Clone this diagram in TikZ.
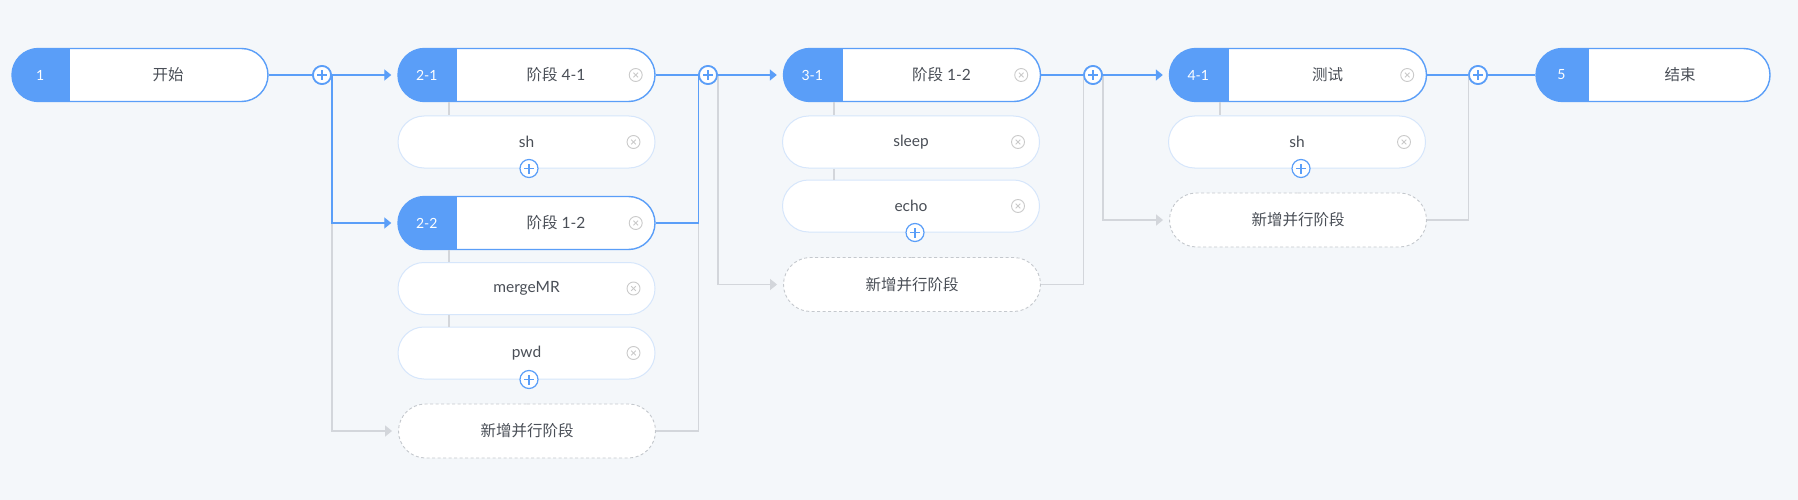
\documentclass[tikz,border=0pt]{standalone}
\usepackage{fontspec}
\setmainfont{Lato}
\newfontfamily\cjk{Noto Sans CJK SC}
\usetikzlibrary{shapes.misc,arrows.meta}
\definecolor{bgc}{HTML}{F4F7FA}
\definecolor{mblue}{HTML}{5A9EF8}
\definecolor{lblue}{HTML}{D6E6FB}
\definecolor{lgrey}{HTML}{D3D6DB}
\definecolor{dgrey}{HTML}{C4C8CD}
\definecolor{txt}{HTML}{4A4F57}
\definecolor{xgrey}{HTML}{CACACA}
\tikzset{
  pill/.style={rounded rectangle, inner sep=0pt, fill=white, minimum height=53pt, minimum width=257pt, text=txt},
  headbox/.style={pill, draw=mblue, line width=1.4pt,
    path picture={\fill[mblue] (path picture bounding box.south west) rectangle ([xshift=#1]path picture bounding box.north west);}},
  subbox/.style={pill, minimum height=52pt, draw=lblue, line width=1pt},
  newbox/.style={pill, minimum height=54pt, draw=dgrey, line width=0.9pt, dash pattern=on 3pt off 2.5pt},
  idtxt/.style={text=white, font=\fontsize{14}{16}\selectfont, inner sep=0pt},
  ttl/.style={text=txt, inner sep=0pt},
  bline/.style={draw=mblue, line width=1.3pt},
  glines/.style={draw=lgrey, line width=1.3pt},
  tipb/.style={-{Triangle[width=11pt,length=7pt]}},
  plusicon/.style={circle, draw=mblue, fill=white, line width=1.7pt, minimum size=18pt, inner sep=0pt,
    path picture={\draw[mblue, line width=1.7pt] ([xshift=-5pt]path picture bounding box.center) -- ([xshift=5pt]path picture bounding box.center);
                  \draw[mblue, line width=1.7pt] ([yshift=-5pt]path picture bounding box.center) -- ([yshift=5pt]path picture bounding box.center);}},
  subplus/.style={plusicon, line width=1.2pt,
    path picture={\draw[mblue, line width=1.2pt] ([xshift=-5pt]path picture bounding box.center) -- ([xshift=5pt]path picture bounding box.center);
                  \draw[mblue, line width=1.2pt] ([yshift=-5pt]path picture bounding box.center) -- ([yshift=5pt]path picture bounding box.center);}},
  closeicon/.style={circle, draw=xgrey, fill=white, line width=0.9pt, minimum size=13pt, inner sep=0pt,
    path picture={\draw[xgrey, line width=0.8pt] ([shift={(-2.3pt,-2.3pt)}]path picture bounding box.center) -- ([shift={(2.3pt,2.3pt)}]path picture bounding box.center);
                  \draw[xgrey, line width=0.8pt] ([shift={(-2.3pt,2.3pt)}]path picture bounding box.center) -- ([shift={(2.3pt,-2.3pt)}]path picture bounding box.center);}}
}
\begin{document}
\begin{tikzpicture}[x=1pt,y=-1pt, font=\fontsize{15.5}{18}\selectfont]
\fill[bgc] (0,0) rectangle (1798,500);
\useasboundingbox (0,0) rectangle (1798,500);

% start / end
\node[headbox=58pt, minimum width=256pt] (start) at (140,75) {};
\node[idtxt] (startid) at ([xshift=29pt]start.west) {1};
\node[ttl] (startt) at ([xshift=28pt]start.center) {\cjk 开始};

\node[headbox=53pt, minimum width=234pt] (fin) at (1653,75) {};
\node[idtxt] (finid) at ([xshift=26pt]fin.west) {5};
\node[ttl] (fint) at ([xshift=27pt]fin.center) {\cjk 结束};

% stage 2
\node[headbox=59pt] (s21) at (526.5,75) {};
\node[idtxt] (s21id) at ([xshift=29.5pt]s21.west) {2-1};
\node[ttl] (s21t) at ([xshift=29.5pt]s21.center) {{\cjk 阶段} 4-1};
\node[closeicon] (s21x) at ([xshift=-20pt]s21.east) {};
\node[subbox] (s21a) at (526.5,142) {sh};
\node[closeicon] (s21ax) at ([xshift=-22pt]s21a.east) {};

\node[headbox=59pt] (s22) at (526.5,223) {};
\node[idtxt] (s22id) at ([xshift=29.5pt]s22.west) {2-2};
\node[ttl] (s22t) at ([xshift=29.5pt]s22.center) {{\cjk 阶段} 1-2};
\node[closeicon] (s22x) at ([xshift=-20pt]s22.east) {};
\node[subbox] (s22a) at (526.5,288.5) {mergeMR};
\node[closeicon] (s22ax) at ([xshift=-22pt]s22a.east) {};
\node[subbox] (s22b) at (526.5,353) {pwd};
\node[closeicon] (s22bx) at ([xshift=-22pt]s22b.east) {};
\node[newbox] (n2) at (527,431) {\cjk 新增并行阶段};

% stage 3
\node[headbox=59pt] (s31) at (912,75) {};
\node[idtxt] (s31id) at ([xshift=29.5pt]s31.west) {3-1};
\node[ttl] (s31t) at ([xshift=29.5pt]s31.center) {{\cjk 阶段} 1-2};
\node[closeicon] (s31x) at ([xshift=-20pt]s31.east) {};
\node[subbox] (s31a) at (911,142) {sleep};
\node[closeicon] (s31ax) at ([xshift=-22pt]s31a.east) {};
\node[subbox] (s31b) at (911,206) {echo};
\node[closeicon] (s31bx) at ([xshift=-22pt]s31b.east) {};
\node[newbox] (n3) at (912,284.5) {\cjk 新增并行阶段};

% stage 4
\node[headbox=59pt] (s41) at (1298,75) {};
\node[idtxt] (s41id) at ([xshift=29.5pt]s41.west) {4-1};
\node[ttl] (s41t) at ([xshift=29.5pt]s41.center) {\cjk 测试};
\node[closeicon] (s41x) at ([xshift=-20pt]s41.east) {};
\node[subbox] (s41a) at (1297,142) {sh};
\node[closeicon] (s41ax) at ([xshift=-22pt]s41a.east) {};
\node[newbox] (n4) at (1298,220) {\cjk 新增并行阶段};

% main plus icons
\node[plusicon] (p1) at (322,75) {};
\node[plusicon] (p2) at (708,75) {};
\node[plusicon] (p3) at (1093,75) {};
\node[plusicon] (p4) at (1478,75) {};

% inner grey links
\draw[glines] ([xshift=-77.5pt]s21.south) -- ([xshift=-77.5pt]s21a.north);
\draw[glines] ([xshift=-77.5pt]s22.south) -- ([xshift=-77.5pt]s22a.north);
\draw[glines] ([xshift=-77.5pt]s22a.south) -- ([xshift=-77.5pt]s22b.north);
\draw[glines] ([xshift=-78pt]s31.south) -- ([xshift=-77pt]s31a.north);
\draw[glines] ([xshift=-77pt]s31a.south) -- ([xshift=-77pt]s31b.north);
\draw[glines] ([xshift=-78pt]s41.south) -- ([xshift=-77pt]s41a.north);

% connectors
\draw[bline] (start.east) -- (p1.west);
\draw[glines,tipb] (p1.east |- s22) |- ([xshift=-6pt]n2.west);
\draw[bline,tipb] (p1.east) -- ([xshift=-6pt]s21.west);
\draw[bline,tipb] (p1.east) |- ([xshift=-6pt]s22.west);

\draw[glines] (n2.east) -| (p2.west |- s22);
\draw[bline] (s21.east) -- (p2.west);
\draw[bline] (s22.east) -| (p2.west);

\draw[glines,tipb] (p2.east) |- ([xshift=-6pt]n3.west);
\draw[bline,tipb] (p2.east) -- ([xshift=-6pt]s31.west);

\draw[glines] (n3.east) -| (p3.west);
\draw[bline] (s31.east) -- (p3.west);

\draw[glines,tipb] (p3.east) |- ([xshift=-6pt]n4.west);
\draw[bline,tipb] (p3.east) -- ([xshift=-6pt]s41.west);

\draw[glines] (n4.east) -| (p4.west);
\draw[bline] (s41.east) -- (p4.west);
\draw[bline] (p4.east) -- (fin.west);

% sub plus icons
\node[subplus] (q2a) at ([xshift=2.5pt]s21a.south) {};
\node[subplus] (q2b) at ([xshift=2.5pt]s22b.south) {};
\node[subplus] (q3) at ([xshift=4pt]s31b.south) {};
\node[subplus] (q4) at ([xshift=4pt]s41a.south) {};

% redraw main plus icons on top
\node[plusicon] (p1b) at (p1) {};
\node[plusicon] (p2b) at (p2) {};
\node[plusicon] (p3b) at (p3) {};
\node[plusicon] (p4b) at (p4) {};
\end{tikzpicture}
\end{document}
